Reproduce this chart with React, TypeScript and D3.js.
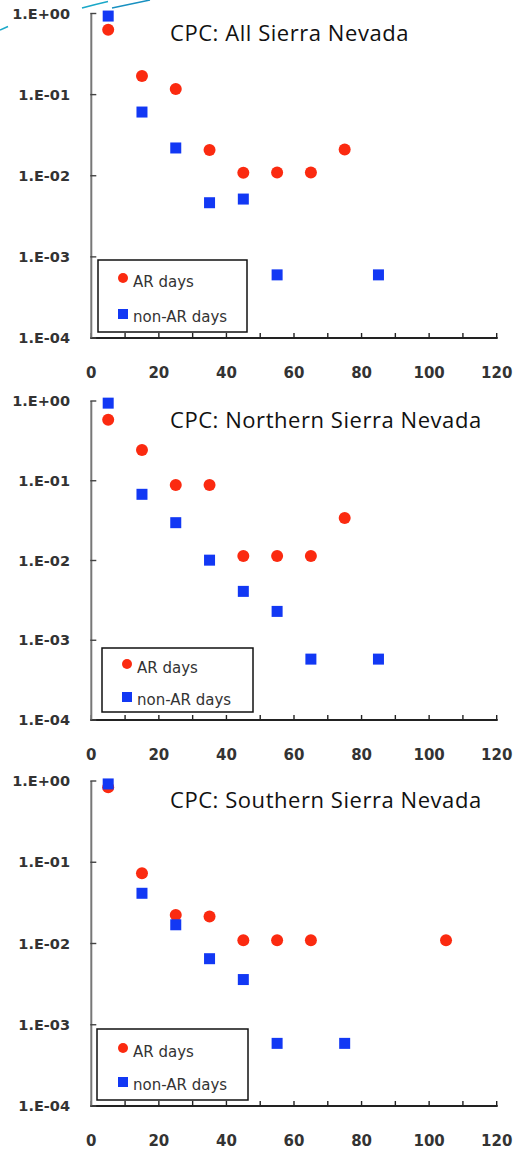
import React from "react";
import * as d3 from "d3";

// exceedance probability by bin (x = bin centre)
const yTickLabels = ["1.E+00", "1.E-01", "1.E-02", "1.E-03", "1.E-04"];
const yTickValues = [1, 0.1, 0.01, 0.001, 0.0001];
const xTickLabels = ["0", "20", "40", "60", "80", "100", "120"];
const xTickValues = [0, 20, 40, 60, 80, 100, 120];
const xMinorTicks = [0, 10, 20, 30, 40, 50, 60, 70, 80, 90, 100, 110, 120];

const allArX = [5, 15, 25, 35, 45, 55, 65, 75];
const allArY = [0.63, 0.17, 0.117, 0.0207, 0.0109, 0.011, 0.011, 0.021];
const allNonX = [5, 15, 25, 35, 45, 55, 85];
const allNonY = [0.93, 0.061, 0.022, 0.00465, 0.00516, 0.0006, 0.0006];

const northArX = [5, 15, 25, 35, 45, 55, 65, 75];
const northArY = [0.58, 0.243, 0.0885, 0.0885, 0.0114, 0.0114, 0.0114, 0.034];
const northNonX = [5, 15, 25, 35, 45, 55, 65, 85];
const northNonY = [0.94, 0.0676, 0.0298, 0.0101, 0.0041, 0.0023, 0.00058, 0.00058];

const southArX = [5, 15, 25, 35, 45, 55, 65, 105];
const southArY = [0.84, 0.073, 0.0224, 0.0215, 0.011, 0.011, 0.011, 0.011];
const southNonX = [5, 15, 25, 35, 45, 55, 75];
const southNonY = [0.92, 0.0415, 0.017, 0.0065, 0.0036, 0.00059, 0.00059];

const legendLabels = ["AR days", "non-AR days"];

const RED = "#fb2a10";
const BLUE = "#1238f4";

const panels = [
  {
    title: "CPC: All Sierra Nevada",
    arX: allArX, arY: allArY, nonX: allNonX, nonY: allNonY,
    top: 13.5, bottom: 338,
    legend: { x: 98, y: 260, w: 149, h: 72, mx: 123, tx: 133, r1: 18, r2: 54 },
  },
  {
    title: "CPC: Northern Sierra Nevada",
    arX: northArX, arY: northArY, nonX: northNonX, nonY: northNonY,
    top: 401, bottom: 720,
    legend: { x: 102, y: 648, w: 151, h: 64, mx: 127, tx: 137, r1: 16, r2: 49 },
  },
  {
    title: "CPC: Southern Sierra Nevada",
    arX: southArX, arY: southArY, nonX: southNonX, nonY: southNonY,
    top: 781, bottom: 1106,
    legend: { x: 97, y: 1029, w: 151, h: 71, mx: 123, tx: 133, r1: 19, r2: 53 },
  },
];

const x = d3.scaleLinear().domain([0, 120]).range([91.3, 496.7]);

function Panel({ p }: { p: any }) {
  const y = d3.scaleLog().domain([1e-4, 1]).range([p.bottom, p.top]);
  const lg = p.legend;
  return (
    <g>
      {/* x axis */}
      <line x1={x(0) - 1} x2={x(120) + 1} y1={p.bottom} y2={p.bottom} stroke="#222" strokeWidth={1.8} />
      {xMinorTicks.map((t) => (
        <line key={t} x1={x(t)} x2={x(t)} y1={p.bottom} y2={p.bottom - 5} stroke="#222" strokeWidth={1.4} />
      ))}
      {xTickValues.map((t, i) => (
        <text key={t} x={x(t)} y={p.bottom + 40} textAnchor="middle" fontFamily="DejaVu Sans" fontWeight="bold" fontSize={15} fill="#333">
          {xTickLabels[i]}
        </text>
      ))}
      {/* y axis */}
      <line x1={x(0)} x2={x(0)} y1={p.top} y2={p.bottom} stroke="#777" strokeWidth={2} />
      {yTickValues.map((t, i) => (
        <g key={t}>
          <line x1={x(0) - 1} x2={x(0) + 5} y1={y(t)} y2={y(t)} stroke="#444" strokeWidth={1.4} />
          <text x={70} y={y(t)} dy="0.36em" textAnchor="end" fontFamily="DejaVu Sans" fontWeight="bold" fontSize={14.5} fill="#333">
            {yTickLabels[i]}
          </text>
        </g>
      ))}
      {/* title */}
      <text x={170} y={p.top + 27} fontFamily="Open Sans" fontSize={22} letterSpacing={0.55} fill="#111">
        {p.title}
      </text>
      {/* points */}
      {p.arX.map((v: number, i: number) => (
        <circle key={"a" + i} cx={x(v)} cy={y(p.arY[i])} r={6} fill={RED} />
      ))}
      {p.nonX.map((v: number, i: number) => (
        <rect key={"n" + i} x={x(v) - 5.5} y={y(p.nonY[i]) - 5.5} width={11} height={11} fill={BLUE} />
      ))}
      {/* legend */}
      <rect x={lg.x} y={lg.y} width={lg.w} height={lg.h} fill="#fff" stroke="#111" strokeWidth={1.5} />
      <circle cx={lg.mx} cy={lg.y + lg.r1} r={5} fill={RED} />
      <text x={lg.tx} y={lg.y + lg.r1 + 9} fontFamily="DejaVu Sans" fontSize={15} fill="#333">
        {legendLabels[0]}
      </text>
      <rect x={lg.mx - 5} y={lg.y + lg.r2 - 5} width={10} height={10} fill={BLUE} />
      <text x={lg.tx} y={lg.y + lg.r2 + 8} fontFamily="DejaVu Sans" fontSize={15} fill="#333">
        {legendLabels[1]}
      </text>
    </g>
  );
}

export default function App() {
  return (
    <svg width={516} height={1150} style={{ position: "absolute", left: 0, top: 0, background: "#fff" }}>
      <rect width={516} height={1150} fill="#fff" />
      {/* slide decoration */}
      <path d="M0,30 L8,26.5" stroke="#1aa8c8" strokeWidth={1.5} fill="none" />
      <path d="M82,8 Q95,4.5 108,1.5" stroke="#1aa8c8" strokeWidth={1.5} fill="none" />
      <path d="M112,8 L150,0" stroke="#1890c0" strokeWidth={1.5} fill="none" />
      {panels.map((p) => (
        <Panel key={p.title} p={p} />
      ))}
    </svg>
  );
}
